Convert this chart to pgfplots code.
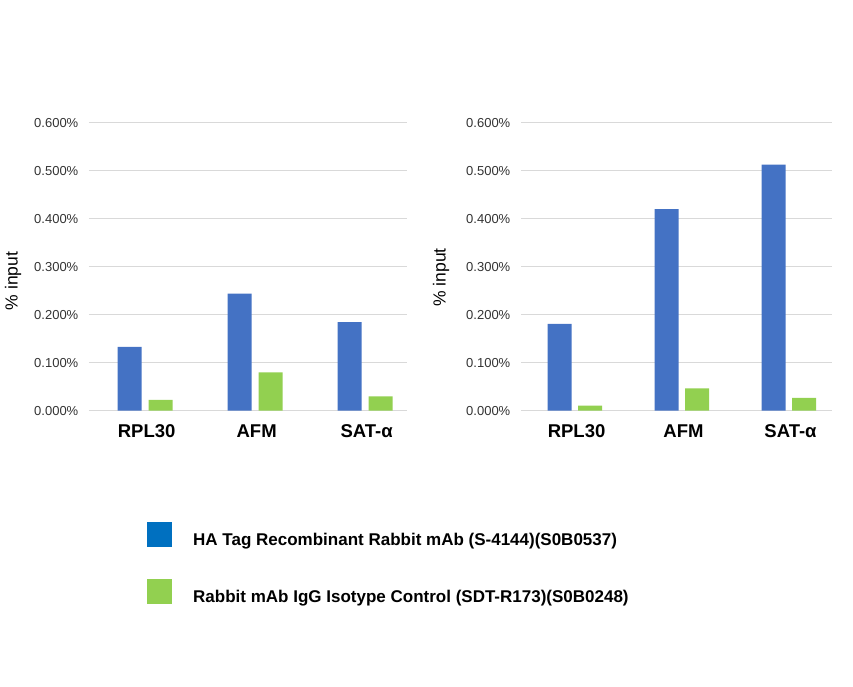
\documentclass[border=0pt]{standalone}
\usepackage{fontspec}
\setmainfont{Liberation Sans}
\usepackage{pgfplots}
\pgfplotsset{compat=1.18}
\definecolor{barblue}{HTML}{4472C4}
\definecolor{bargreen}{HTML}{92D050}
\definecolor{legblue}{HTML}{0070C0}
\definecolor{gridgray}{HTML}{D9D9D9}
\definecolor{ticktext}{HTML}{333333}

\pgfplotsset{
  chip/.style={
    scale only axis,
    height=288pt,
    anchor=south west,
    ybar,
    bar width=24pt,
    ymin=0, ymax=0.6,
    ytick={0,0.1,0.2,0.3,0.4,0.5,0.6},
    /pgf/number format/assume math mode=true,
    yticklabel={\pgfmathprintnumber[fixed,fixed zerofill,precision=3]{\tick}\%},
    yticklabel style={font=\fontsize{13}{15}\selectfont, text=ticktext, inner sep=0pt, xshift=-10.5pt},
    xtick={0,1,2},
    xticklabels={RPL30,AFM,SAT-α},
    xticklabel style={font=\bfseries\fontsize{18.5}{21}\selectfont, inner sep=0pt, yshift=-14pt, xshift=1.5pt},
    ymajorgrids,
    grid style={gridgray, line width=1pt},
    axis line style={draw=none},
    major tick length=0pt,
    ylabel={\% input},
    ylabel style={font=\fontsize{17.5}{20}\selectfont, rotate=0, anchor=center},
  }
}

\begin{document}
\begin{tikzpicture}
\path[use as bounding box] (0pt,0pt) rectangle (853pt,686pt);

% left chart
\begin{axis}[chip,
  at={(89pt,275.3pt)}, width=318pt,
  xmin=-0.51, xmax=2.38,
  every axis y label/.append style={at={(axis description cs:-0.2390,0.4503)}},
  legend image code/.code={\fill[#1] (0pt,-7pt) rectangle (25pt,18pt);},
  legend style={at={(axis description cs:0.1824,-0.3865)}, anchor=north west,
    draw=none, fill=none, inner sep=0pt, row sep=30pt,
    font=\bfseries\fontsize{17}{19}\selectfont,
    /tikz/every odd column/.append style={column sep=19pt}},
  legend cell align=left,
]
\addplot[fill=barblue, draw=none, bar shift=-15.5pt, forget plot] coordinates {(0,0.133) (1,0.244) (2,0.1845)};
\addplot[fill=bargreen, draw=none, bar shift=15.5pt, forget plot] coordinates {(0,0.0223) (1,0.080) (2,0.030)};
\addlegendimage{fill=legblue, draw=none}
\addlegendentry{HA Tag Recombinant Rabbit mAb (S-4144)(S0B0537)}
\addlegendimage{fill=bargreen, draw=none}
\addlegendentry{Rabbit mAb IgG Isotype Control (SDT-R173)(S0B0248)}
\end{axis}

% right chart
\begin{axis}[chip,
  at={(521pt,275.3pt)}, width=310.7pt,
  xmin=-0.505, xmax=2.399,
  every axis y label/.append style={at={(axis description cs:-0.2575,0.4625)}},
]
\addplot[fill=barblue, draw=none, bar shift=-15.5pt] coordinates {(0,0.181) (1,0.420) (2,0.5125)};
\addplot[fill=bargreen, draw=none, bar shift=15pt] coordinates {(0,0.0104) (1,0.0466) (2,0.0265)};
\end{axis}
\end{tikzpicture}
\end{document}
